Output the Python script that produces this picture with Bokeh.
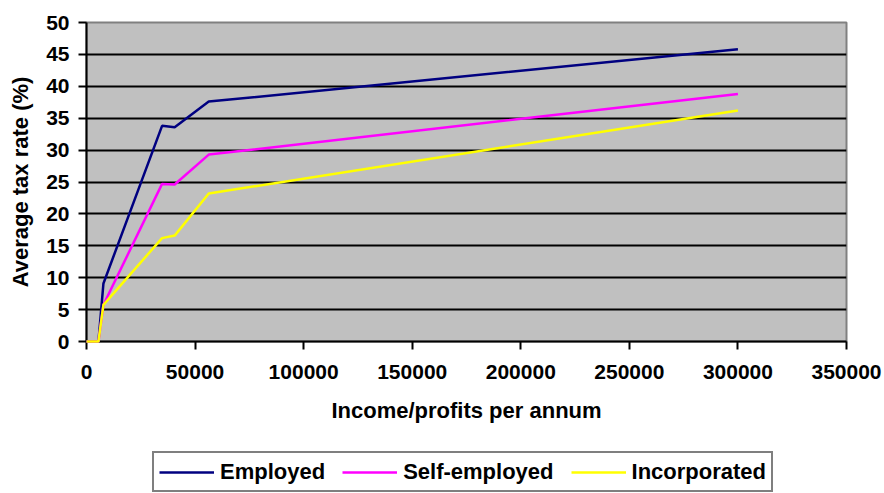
from bokeh.plotting import figure
from bokeh.models import Range1d, FixedTicker, NumeralTickFormatter, Legend, LegendItem
from bokeh.layouts import column
from bokeh.embed import file_html
from bokeh.resources import INLINE

income = [0, 5500, 7800, 34800, 40600, 56300, 300000]
employed = [0, 0, 9.1, 33.8, 33.6, 37.6, 45.8]
self_employed = [0, 0, 5.75, 24.7, 24.6, 29.3, 38.8]
incorporated = [0, 0, 5.75, 16.2, 16.6, 23.2, 36.2]

series_names = ["Employed", "Self-employed", "Incorporated"]
series_colors = ["#000080", "#FF00FF", "#FFFF00"]

x_ticks = [0, 50000, 100000, 150000, 200000, 250000, 300000, 350000]
y_ticks = [0, 5, 10, 15, 20, 25, 30, 35, 40, 45, 50]

FONT = "Liberation Sans"

p = figure(width=884, height=440, output_backend="svg", toolbar_location=None,
           x_range=Range1d(0, 350000), y_range=Range1d(0, 50),
           min_border_left=86, min_border_right=38, min_border_top=22, min_border_bottom=99)
p.background_fill_color = "#C0C0C0"
p.border_fill_color = "white"
p.outline_line_color = "#808080"
p.outline_line_width = 2

p.xgrid.visible = False
p.ygrid.ticker = FixedTicker(ticks=[5, 10, 15, 20, 25, 30, 35, 40, 45])
p.ygrid.grid_line_color = "black"
p.ygrid.grid_line_width = 2

for ax in (p.xaxis[0], p.yaxis[0]):
    ax.axis_line_color = "black"
    ax.axis_line_width = 2
    ax.major_tick_line_color = "black"
    ax.major_tick_line_width = 2
    ax.major_tick_in = 0
    ax.major_tick_out = 8
    ax.minor_tick_line_color = None
    ax.major_label_text_font = FONT
    ax.major_label_text_font_style = "bold"
    ax.major_label_text_font_size = "21px"
    ax.major_label_text_color = "black"
    ax.axis_label_text_font = FONT
    ax.axis_label_text_font_style = "bold"
    ax.axis_label_text_font_size = "22px"
    ax.axis_label_text_color = "black"

p.xaxis.ticker = FixedTicker(ticks=x_ticks)
p.xaxis.formatter = NumeralTickFormatter(format="0")
p.yaxis.ticker = FixedTicker(ticks=y_ticks)
p.xaxis.major_label_standoff = 15
p.yaxis.major_label_standoff = 9
p.xaxis.axis_label = "Income/profits per annum"
p.yaxis.axis_label = "Average tax rate (%)"
p.xaxis.axis_label_standoff = 16
p.yaxis.axis_label_standoff = 10

for ys, c in zip([employed, self_employed, incorporated], series_colors):
    p.line(income, ys, line_color=c, line_width=2.5, level="overlay")

# legend strip below the chart
lg = figure(width=884, height=53, output_backend="svg", toolbar_location=None,
            x_range=Range1d(0, 1), y_range=Range1d(0, 1),
            x_axis_type=None, y_axis_type=None,
            min_border_left=0, min_border_right=0, min_border_top=0, min_border_bottom=0)
lg.outline_line_color = None
lg.background_fill_color = "white"
lg.border_fill_color = "white"
lg.xgrid.visible = False
lg.ygrid.visible = False
items = []
for name, c in zip(series_names, series_colors):
    r = lg.line(x=[-10, -9], y=[-10, -10], line_color=c, line_width=2.5)
    items.append(LegendItem(label=name, renderers=[r]))

legend = Legend(items=items, orientation="horizontal", location=(66, 1))
legend.label_text_font = FONT
legend.label_text_font_style = "bold"
legend.label_text_font_size = "22px"
legend.label_text_color = "black"
legend.glyph_width = 55
legend.label_standoff = 6
legend.label_height = 27
legend.spacing = 17
legend.padding = 5
legend.margin = 0
legend.border_line_color = "black"
legend.border_line_width = 2
legend.background_fill_color = "white"
legend.background_fill_alpha = 1
lg.add_layout(legend, "center")

layout = column(p, lg, spacing=0)
open("out.html", "w").write(file_html(layout, INLINE))
